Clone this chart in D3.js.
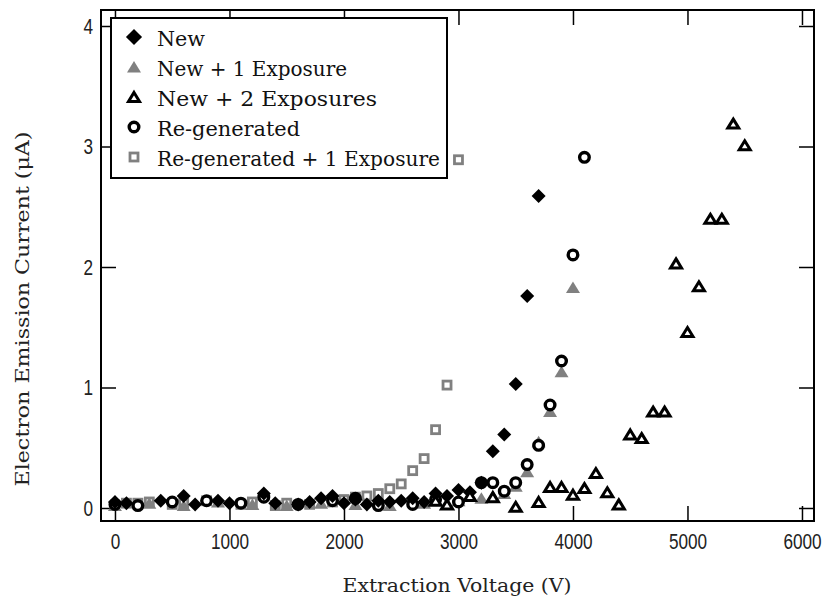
<!DOCTYPE html>
<html>
<head>
<meta charset="utf-8">
<script src="https://cdn.jsdelivr.net/npm/d3@7"></script>
<style>
  html, body { margin: 0; padding: 0; background: #fff; }
  svg { display: block; }
</style>
</head>
<body>
<svg id="chart" width="823" height="615"></svg>
<script>
// ---------------- DATA ----------------
const xTicks = [0, 1000, 2000, 3000, 4000, 5000, 6000];
const yTicks = [0, 1, 2, 3, 4];
const xTitle = "Extraction Voltage (V)";
const yTitle = "Electron Emission Current (\u03bcA)";
const seriesNames = ["New", "New + 1 Exposure", "New + 2 Exposures", "Re-generated", "Re-generated + 1 Exposure"];

// New (black diamonds)
const newV = [0, 100, 400, 600, 700, 900, 1000, 1300, 1400, 1600, 1700, 1800, 1900, 2000, 2100, 2200, 2300, 2400, 2500, 2600, 2700, 2800, 2900, 3000, 3100, 3200, 3300, 3400, 3500, 3600, 3700];
const newI = [0.05, 0.04, 0.06, 0.1, 0.03, 0.06, 0.04, 0.12, 0.04, 0.03, 0.05, 0.08, 0.1, 0.04, 0.07, 0.03, 0.06, 0.05, 0.06, 0.08, 0.05, 0.12, 0.1, 0.15, 0.13, 0.21, 0.47, 0.61, 1.03, 1.76, 2.59];

// New + 1 Exposure (grey filled triangles)
const new1V = [0, 300, 600, 900, 1200, 1500, 1800, 2100, 2400, 2700, 3000, 3200, 3300, 3400, 3500, 3600, 3700, 3800, 3900, 4000];
const new1I = [0.02, 0.04, 0.02, 0.05, 0.03, 0.02, 0.04, 0.03, 0.02, 0.04, 0.06, 0.08, 0.1, 0.12, 0.18, 0.3, 0.55, 0.8, 1.13, 1.83];

// New + 2 Exposures (black open triangles)
const new2V = [2800, 2900, 3100, 3300, 3500, 3700, 3800, 3900, 4000, 4100, 4200, 4300, 4400, 4500, 4600, 4700, 4800, 4900, 5000, 5100, 5200, 5300, 5400, 5500];
const new2I = [0.06, 0.03, 0.1, 0.09, 0.01, 0.05, 0.175, 0.175, 0.11, 0.165, 0.29, 0.13, 0.03, 0.61, 0.58, 0.8, 0.8, 2.03, 1.46, 1.84, 2.4, 2.4, 3.19, 3.01];

// Re-generated (black open circles)
const regV = [0, 200, 500, 800, 1100, 1300, 1600, 1900, 2100, 2300, 2600, 2800, 3000, 3200, 3300, 3400, 3500, 3600, 3700, 3800, 3900, 4000, 4100];
const regI = [0.03, 0.02, 0.05, 0.06, 0.04, 0.09, 0.03, 0.06, 0.08, 0.02, 0.03, 0.07, 0.05, 0.21, 0.21, 0.14, 0.21, 0.36, 0.52, 0.855, 1.22, 2.1, 2.91];

// Re-generated + 1 Exposure (grey open squares)
const reg1V = [100, 200, 300, 500, 600, 800, 1100, 1200, 1400, 1500, 1700, 1900, 2000, 2100, 2200, 2300, 2400, 2500, 2600, 2700, 2800, 2900, 3000];
const reg1I = [0.04, 0.04, 0.05, 0.03, 0.04, 0.06, 0.03, 0.05, 0.02, 0.04, 0.03, 0.05, 0.07, 0.09, 0.1, 0.12, 0.16, 0.2, 0.31, 0.41, 0.65, 1.02, 2.89];

// ---------------- CHART ----------------
const svg = d3.select("#chart");
const M = { left: 101, right: 814, top: 10, bottom: 521 };
const x = d3.scaleLinear().domain([-122, 6105]).range([M.left, M.right]);
const y = d3.scaleLinear().domain([-0.1079, 4.1328]).range([M.bottom, M.top]);
const grey = "#808080";
const tickLen = 15;

// frame
svg.append("rect").attr("x", M.left).attr("y", M.top)
  .attr("width", M.right - M.left).attr("height", M.bottom - M.top)
  .attr("fill", "none").attr("stroke", "#000").attr("stroke-width", 2);

// axes via d3 (inward ticks)
const tickFont = "'Liberation Sans', 'Arial', sans-serif";
const xAxisB = d3.axisBottom(x).tickValues(xTicks).tickSize(-tickLen).tickPadding(12).tickFormat(d3.format("d"));
const xAxisT = d3.axisTop(x).tickValues(xTicks).tickSize(-tickLen).tickFormat("");
const yAxisL = d3.axisLeft(y).tickValues(yTicks).tickSize(-tickLen).tickPadding(8).tickFormat(d3.format("d"));
const yAxisR = d3.axisRight(y).tickValues(yTicks).tickSize(-tickLen).tickFormat("");

function styleAxis(g, isY) {
  g.select(".domain").remove();
  g.selectAll(".tick line").attr("stroke", "#000").attr("stroke-width", 1.5);
  g.selectAll(".tick text").attr("fill", "#222").style("font-family", tickFont).style("font-size", "22px")
    .attr("transform", "scale(0.78,1)")
    .attr("x", function () { return isY ? (+d3.select(this).attr("x")) / 0.78 : 0; });
}
svg.append("g").attr("transform", `translate(0,${M.bottom})`).call(xAxisB).call(g => styleAxis(g, false));
svg.append("g").attr("transform", `translate(0,${M.top})`).call(xAxisT).call(g => styleAxis(g, false));
svg.append("g").attr("transform", `translate(${M.left},0)`).call(yAxisL).call(g => styleAxis(g, true));
svg.append("g").attr("transform", `translate(${M.right},0)`).call(yAxisR).call(g => styleAxis(g, true));

// axis titles
const serif = "'DejaVu Serif', 'Liberation Serif', serif";
svg.append("text").attr("x", 457).attr("y", 592).attr("text-anchor", "middle")
  .style("font-family", serif).style("font-size", "18px").attr("fill", "#222")
  .attr("textLength", 229).attr("lengthAdjust", "spacingAndGlyphs").text(xTitle);
svg.append("text").attr("transform", "translate(29,309) rotate(-90)").attr("text-anchor", "middle")
  .style("font-family", serif).style("font-size", "18px").attr("fill", "#222")
  .attr("textLength", 355).attr("lengthAdjust", "spacingAndGlyphs").text(yTitle);

// symbols
const sym = {
  diamond: (g, s) => g.append("path").attr("d", `M0,${-7*s}L${7*s},0L0,${7*s}L${-7*s},0Z`).attr("fill", "#000"),
  triFill: (g, s) => g.append("path").attr("d", `M0,${-6*s}L${7*s},${5.5*s}L${-7*s},${5.5*s}Z`).attr("fill", grey),
  triOpen: (g, s) => g.append("path").attr("d", `M0,${-4.5*s}L${5.5*s},${4.5*s}L${-5.5*s},${4.5*s}Z`).attr("fill", "#fff").attr("stroke", "#000").attr("stroke-width", 3).attr("stroke-linejoin", "miter"),
  circle: (g, s) => g.append("circle").attr("r", 4.8*s).attr("fill", "#fff").attr("stroke", "#000").attr("stroke-width", 3.4),
  square: (g, s) => g.append("rect").attr("x", -4*s).attr("y", -4*s).attr("width", 8*s).attr("height", 8*s).attr("fill", "#fff").attr("stroke", grey).attr("stroke-width", 2.8)
};

const series = [
  { vx: reg1V, vy: reg1I, s: "square" },
  { vx: new1V, vy: new1I, s: "triFill" },
  { vx: regV, vy: regI, s: "circle" },
  { vx: newV, vy: newI, s: "diamond" },
  { vx: new2V, vy: new2I, s: "triOpen" }
];
const plot = svg.append("g");
series.forEach(sr => {
  const pts = sr.vx.map((v, i) => [v, sr.vy[i]]);
  plot.selectAll(null).data(pts).enter().append("g")
    .attr("transform", d => `translate(${x(d[0])},${y(d[1])})`)
    .each(function () { sym[sr.s](d3.select(this), 1); });
});

// legend
const lg = svg.append("g");
lg.append("rect").attr("x", 111).attr("y", 18).attr("width", 336).attr("height", 160)
  .attr("fill", "#fff").attr("stroke", "#000").attr("stroke-width", 2);
const legendSyms = ["diamond", "triFill", "triOpen", "circle", "square"];
const legendLens = [48, 190, 220, 143, 283];
seriesNames.forEach((name, i) => {
  const by = 46 + i * 30;
  const g = lg.append("g").attr("transform", `translate(134,${by - 9})`);
  sym[legendSyms[i]](g, i === 0 ? 1.15 : 1);
  lg.append("text").attr("x", 157).attr("y", by)
    .style("font-family", serif).style("font-size", "20px").attr("fill", "#111")
    .attr("textLength", legendLens[i]).attr("lengthAdjust", "spacingAndGlyphs").text(name);
});
</script>
</body>
</html>
